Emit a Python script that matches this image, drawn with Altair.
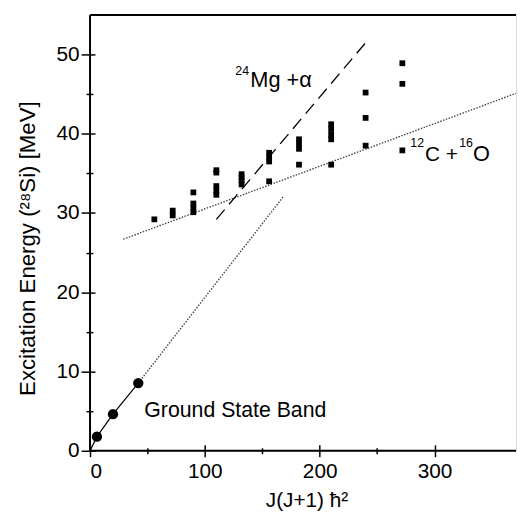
import altair as alt
import pandas as pd

# ---- data ----
level_x = [56,
           72, 72,
           90, 90, 90, 90,
           110, 110, 110, 110, 110,
           132, 132, 132, 132,
           156, 156, 156, 156,
           182, 182, 182, 182,
           210, 210, 210, 210, 210,
           240, 240, 240,
           272, 272, 272]
level_e = [29.2,
           29.7, 30.3,
           30.1, 30.6, 31.2, 32.6,
           32.3, 32.8, 33.4, 35.1, 35.4,
           33.6, 34.1, 34.5, 34.9,
           34.0, 36.5, 37.0, 37.6,
           36.1, 38.1, 38.7, 39.3,
           36.1, 39.3, 39.9, 40.6, 41.2,
           38.5, 42.0, 45.2,
           37.9, 46.3, 48.9]

gs_x = [6, 20, 42]
gs_e = [1.78, 4.62, 8.54]

gs_line_x = [0, 6, 20, 42]
gs_line_e = [0, 1.78, 4.62, 8.54]
gs_ext_x = [42, 168]
gs_ext_e = [8.54, 32.0]
co_line_x = [29, 371]
co_line_e = [26.7, 45.1]
mg_line_x = [110, 243]
mg_line_e = [29.2, 52.0]

x_major = [0, 100, 200, 300]
x_minor = [50, 150, 250]
y_major = [0, 10, 20, 30, 40, 50]
y_minor = [5, 15, 25, 35, 45]

XMAX = 371
YMAX = 55
FONT = "Liberation Sans"

xs = alt.Scale(domain=[0, XMAX], nice=False, zero=False)
ys = alt.Scale(domain=[0, YMAX], nice=False, zero=False)

def line_layer(xv, ev, **kw):
    df = pd.DataFrame({"x": xv, "e": ev})
    return alt.Chart(df).mark_line(**kw).encode(
        x=alt.X("x:Q", scale=xs, axis=None),
        y=alt.Y("e:Q", scale=ys, axis=None),
    )

# frame
frame_df = pd.DataFrame({"a": [0]})
frame_bottom = alt.Chart(frame_df).mark_rule(color="black", strokeWidth=2).encode(
    y=alt.YDatum(0, scale=ys, axis=None))
frame_top = alt.Chart(frame_df).mark_rule(color="black", strokeWidth=2).encode(
    y=alt.YDatum(YMAX, scale=ys, axis=None))
frame_left = alt.Chart(frame_df).mark_rule(color="black", strokeWidth=2).encode(
    x=alt.XDatum(0, scale=xs, axis=None))

# lines
gs_line = line_layer(gs_line_x, gs_line_e, color="black", strokeWidth=1.2)
gs_ext = line_layer(gs_ext_x, gs_ext_e, color="#444", strokeWidth=1.4, strokeDash=[1.5, 1.5])
co_line = line_layer(co_line_x, co_line_e, color="#444", strokeWidth=1.4, strokeDash=[1.5, 1.5])
mg_line = line_layer(mg_line_x, mg_line_e, color="black", strokeWidth=1.3, strokeDash=[13, 7])

# levels with major axes
lev_df = pd.DataFrame({"x": level_x, "e": level_e})
levels = alt.Chart(lev_df).mark_square(color="black", size=34, opacity=1).encode(
    x=alt.X("x:Q", scale=xs, axis=alt.Axis(
        values=x_major, orient="bottom", domain=False, grid=False,
        offset=-6, tickSize=12, tickWidth=1.5, tickColor="black",
        labelFontSize=21, labelFont=FONT, labelColor="black", labelPadding=4,
        title="J(J+1) ħ²", titleFont=FONT, titleFontSize=21, titleFontWeight="normal",
        titleColor="black", titleX=219, titleY=56, titleBaseline="middle", titleAlign="center")),
    y=alt.Y("e:Q", scale=ys, axis=alt.Axis(
        values=y_major, orient="left", domain=False, grid=False,
        offset=-5, tickSize=14, tickWidth=1.5, tickColor="black",
        labelFontSize=21, labelFont=FONT, labelColor="black", labelPadding=2,
        title="Excitation Energy (²⁸Si) [MeV]", titleFont=FONT, titleFontSize=22.5,
        titleFontWeight="normal", titleColor="black", titleAngle=-90,
        titleX=-68, titleY=236, titleBaseline="middle", titleAlign="center")),
)

# minor axes (invisible mark)
minor_df = pd.DataFrame({"x": [0], "e": [0]})
minor = alt.Chart(minor_df).mark_point(opacity=0).encode(
    x=alt.X("x:Q", scale=xs, axis=alt.Axis(
        values=x_minor, orient="bottom", domain=False, grid=False, labels=False,
        offset=-3, tickSize=6, tickWidth=1.5, tickColor="black", title=None)),
    y=alt.Y("e:Q", scale=ys, axis=alt.Axis(
        values=y_minor, orient="left", domain=False, grid=False, labels=False,
        offset=-3, tickSize=7, tickWidth=1.5, tickColor="black", title=None)),
)

# ground state band
gs_df = pd.DataFrame({"x": gs_x, "e": gs_e})
gs_pts = alt.Chart(gs_df).mark_circle(color="black", size=110, opacity=1).encode(
    x=alt.X("x:Q", scale=xs, axis=None),
    y=alt.Y("e:Q", scale=ys, axis=None),
)

# annotations
def txt(label, xv, ev, size):
    df = pd.DataFrame({"x": [xv], "e": [ev], "t": [label]})
    return alt.Chart(df).mark_text(align="left", baseline="alphabetic", font=FONT,
                                   fontSize=size, color="black").encode(
        x=alt.X("x:Q", scale=xs, axis=None),
        y=alt.Y("e:Q", scale=ys, axis=None),
        text="t:N",
    )

ann = [
    txt("Ground State Band", 47.3, 4.3, 21.5),
    txt("24", 126.5, 47.4, 12.5),
    txt("Mg +α", 139.6, 45.9, 22),
    txt("12", 278.9, 38.3, 12.5),
    txt("C +", 291.8, 36.6, 21),
    txt("16", 321.5, 38.3, 12.5),
    txt("O", 333.5, 36.6, 22),
]

chart = alt.layer(
    minor, gs_ext, co_line, mg_line, gs_line, levels, gs_pts,
    frame_bottom, frame_top, frame_left, *ann
).resolve_axis(x="independent", y="independent").properties(
    width=431, height=441,
    autosize=alt.AutoSizeParams(type="none"),
    padding={"left": 83, "top": 4, "right": 2, "bottom": 60},
).configure_view(stroke=None).configure(background="white")

chart.save("out.html", embed_options={"renderer": "svg", "actions": False})
